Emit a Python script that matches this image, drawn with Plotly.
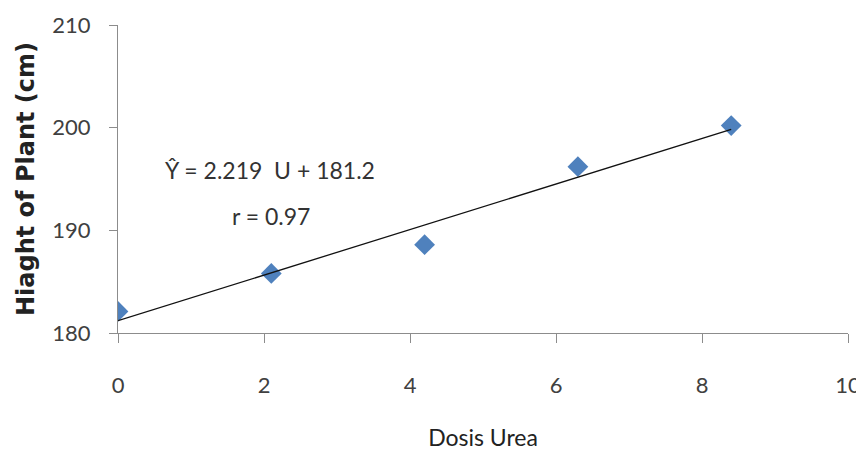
import plotly.graph_objects as go

dose = [0, 2.1, 4.2, 6.3, 8.4]
height = [182.1, 185.8, 188.6, 196.2, 200.2]
slope = 2.219
intercept = 181.2
fit_x = [0, 8.4]
fit_y = [intercept + slope * v for v in fit_x]

font_fam = "Lato, Open Sans, sans-serif"

fig = go.Figure()
fig.add_trace(go.Scatter(x=dose, y=height, mode="markers",
                         marker=dict(symbol="diamond", size=16, color="#4F81BD",
                                     line=dict(width=0)),
                         showlegend=False))
fig.add_trace(go.Scatter(x=fit_x, y=fit_y, mode="lines",
                         line=dict(color="#111111", width=1.3), showlegend=False))

fig.add_annotation(x=2.08, y=195.85, xref="x", yref="y", text="Ŷ = 2.219  U + 181.2",
                   showarrow=False, font=dict(family=font_fam, size=23, color="#333333"))
fig.add_annotation(x=2.1, y=191.4, xref="x", yref="y", text="r = 0.97",
                   showarrow=False, font=dict(family=font_fam, size=23, color="#333333"))

# page body has an 8px margin, so the figure is sized to fit the 864x465 window
fig.update_layout(
    width=856, height=457,
    margin=dict(l=110, r=16, t=17, b=132),
    paper_bgcolor="white", plot_bgcolor="white",
    font=dict(family=font_fam, color="#404040"),
)
fig.update_xaxes(range=[0, 10], dtick=2, showline=True, linecolor="#8c8c8c", linewidth=1,
                 ticks="outside", ticklen=9, tickcolor="#8c8c8c", showgrid=False, zeroline=False,
                 tickfont=dict(size=22, color="#404040"), ticklabelstandoff=24, automargin=False,
                 title=dict(text="Dosis Urea", font=dict(size=23, color="#222222"), standoff=32))
fig.update_yaxes(range=[180, 210], dtick=10, showline=True, linecolor="#8c8c8c", linewidth=1,
                 ticks="outside", ticklen=8, tickcolor="#8c8c8c", showgrid=False, zeroline=False,
                 tickfont=dict(size=22, color="#404040"), ticklabelstandoff=14, automargin=False,
                 title=dict(text="<b>Hiaght of Plant (cm)</b>",
                            font=dict(size=24, color="#222222", family="DejaVu Sans, Verdana, sans-serif"),
                            standoff=10))

fig.write_html("out.html")
